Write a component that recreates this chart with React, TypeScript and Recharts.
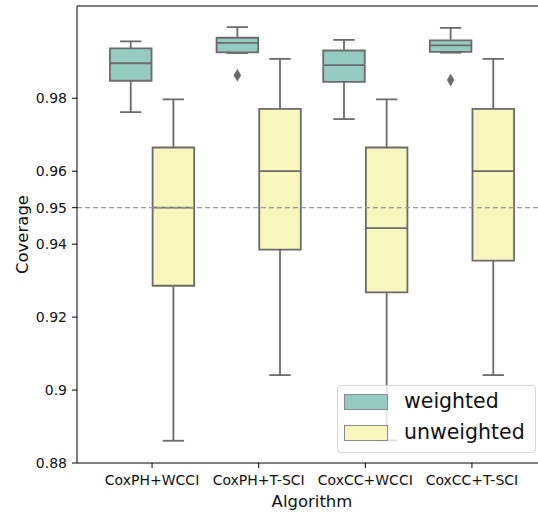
import {
  ComposedChart,
  XAxis,
  YAxis,
  Scatter,
  ReferenceArea,
  ReferenceLine,
} from 'recharts'

// box stats per algorithm: [min, q1, median, q3, max]
const categories = ['CoxPH+WCCI', 'CoxPH+T-SCI', 'CoxCC+WCCI', 'CoxCC+T-SCI']

const weightedStats: number[][] = [
  [0.9762, 0.9848, 0.9896, 0.9937, 0.9956],
  [0.9924, 0.9926, 0.9952, 0.9966, 0.9995],
  [0.9743, 0.9845, 0.9891, 0.9931, 0.996],
  [0.9925, 0.9927, 0.9945, 0.9959, 0.9993],
]

const unweightedStats: number[][] = [
  [0.8861, 0.9286, 0.95, 0.9665, 0.9797],
  [0.9041, 0.9385, 0.96, 0.9771, 0.9908],
  [0.8862, 0.9268, 0.9444, 0.9665, 0.9797],
  [0.9041, 0.9355, 0.96, 0.9771, 0.9908],
]

// outliers of the weighted group: [category index, value]
const weightedOutliers: [number, number][] = [
  [1, 0.9863],
  [3, 0.985],
]

const yTicks = [0.88, 0.9, 0.92, 0.94, 0.95, 0.96, 0.98]
const nominal = 0.95

const Y_MIN = 0.88
const Y_MAX = 1.0053
const X_MIN = -0.704
const X_MAX = 3.704

const WEIGHTED_COLOR = '#96cbc1'
const UNWEIGHTED_COLOR = '#f6f6bd'
const EDGE = '#6b6b6b'
const FONT = 'DejaVu Sans, sans-serif'

const groups = [
  { name: 'weighted', stats: weightedStats, offset: -0.2, color: WEIGHTED_COLOR },
  { name: 'unweighted', stats: unweightedStats, offset: 0.2, color: UNWEIGHTED_COLOR },
]

const HALF_BOX = 0.195
const HALF_CAP = 0.1

const outlierData = weightedOutliers.map(([i, v]) => ({ x: i - 0.2, y: v }))

const Diamond = (props: { cx?: number; cy?: number }) => {
  const { cx = 0, cy = 0 } = props
  return (
    <polygon
      points={`${cx},${cy - 6} ${cx + 3.5},${cy} ${cx},${cy + 6} ${cx - 3.5},${cy}`}
      fill={EDGE}
      stroke={EDGE}
      strokeWidth={0.5}
    />
  )
}

export default function App() {
  const boxes: React.ReactNode[] = []
  groups.forEach((g) => {
    g.stats.forEach((s, i) => {
      const cx = i + g.offset
      const [mn, q1, med, q3, mx] = s
      const key = `${g.name}-${i}`
      boxes.push(
        <ReferenceLine key={`${key}-wl`} segment={[{ x: cx, y: mn }, { x: cx, y: q1 }]} stroke={EDGE} strokeWidth={1.8} />,
        <ReferenceLine key={`${key}-wh`} segment={[{ x: cx, y: q3 }, { x: cx, y: mx }]} stroke={EDGE} strokeWidth={1.8} />,
        <ReferenceArea
          key={`${key}-box`}
          x1={cx - HALF_BOX}
          x2={cx + HALF_BOX}
          y1={q1}
          y2={q3}
          fill={g.color}
          fillOpacity={1}
          stroke={EDGE}
          strokeWidth={1.8}
        />,
        <ReferenceLine key={`${key}-med`} segment={[{ x: cx - HALF_BOX, y: med }, { x: cx + HALF_BOX, y: med }]} stroke={EDGE} strokeWidth={1.8} />,
        <ReferenceLine key={`${key}-cl`} segment={[{ x: cx - HALF_CAP, y: mn }, { x: cx + HALF_CAP, y: mn }]} stroke={EDGE} strokeWidth={1.8} />,
        <ReferenceLine key={`${key}-ch`} segment={[{ x: cx - HALF_CAP, y: mx }, { x: cx + HALF_CAP, y: mx }]} stroke={EDGE} strokeWidth={1.8} />
      )
    })
  })

  return (
    <div
      style={{
        position: 'absolute',
        left: 0,
        top: 0,
        width: 538,
        height: 512,
        overflow: 'hidden',
        background: '#fff',
        fontFamily: FONT,
      }}
    >
      <ComposedChart width={547} height={512} margin={{ top: 6, right: 0, bottom: 0, left: 0 }}>
        <XAxis
          type="number"
          dataKey="x"
          domain={[X_MIN, X_MAX]}
          ticks={[0, 1, 2, 3]}
          tickFormatter={(v: number) => categories[v] ?? ''}
          allowDataOverflow
          height={49}
          interval={0}
          tickSize={5}
          tickMargin={7}
          stroke="#000"
          tick={{ fill: '#111', fontSize: 14, fontFamily: FONT }}
          label={{ value: 'Algorithm', position: 'insideBottom', offset: 5, fill: '#111', fontSize: 16.5, fontFamily: FONT }}
        />
        <YAxis
          type="number"
          dataKey="y"
          domain={[Y_MIN, Y_MAX]}
          ticks={yTicks}
          tickFormatter={(v: number) => String(v)}
          allowDataOverflow
          width={77}
          interval={0}
          tickSize={5}
          tickMargin={5}
          stroke="#000"
          tick={{ fill: '#111', fontSize: 14, fontFamily: FONT }}
          label={{
            value: 'Coverage',
            angle: -90,
            position: 'insideLeft',
            offset: 22,
            fill: '#111',
            fontSize: 16.5,
            fontFamily: FONT,
            style: { textAnchor: 'middle' },
          }}
        />
        <ReferenceLine y={Y_MAX} stroke="#000" strokeWidth={1.2} />
        {boxes}
        <Scatter data={outlierData} shape={<Diamond />} isAnimationActive={false} />
        <ReferenceLine y={nominal} stroke="#999" strokeWidth={1.3} strokeDasharray="5 3" />
      </ComposedChart>

      {/* legend */}
      <div
        style={{
          position: 'absolute',
          left: 337,
          top: 385,
          width: 197,
          height: 66,
          background: 'rgba(255,255,255,0.8)',
          border: '1px solid #d6d6d6',
          borderRadius: 4,
        }}
      />
      {groups.map((g, k) => (
        <div key={g.name}>
          <div
            style={{
              position: 'absolute',
              left: 344,
              top: 394 + k * 31,
              width: 42,
              height: 14,
              background: g.color,
              border: '1px solid #8a8a8a',
            }}
          />
          <span
            style={{
              position: 'absolute',
              left: 404,
              top: 391 + k * 31,
              fontSize: 20.5,
              lineHeight: 1,
              color: '#111',
              whiteSpace: 'nowrap',
            }}
          >
            {g.name}
          </span>
        </div>
      ))}
    </div>
  )
}
